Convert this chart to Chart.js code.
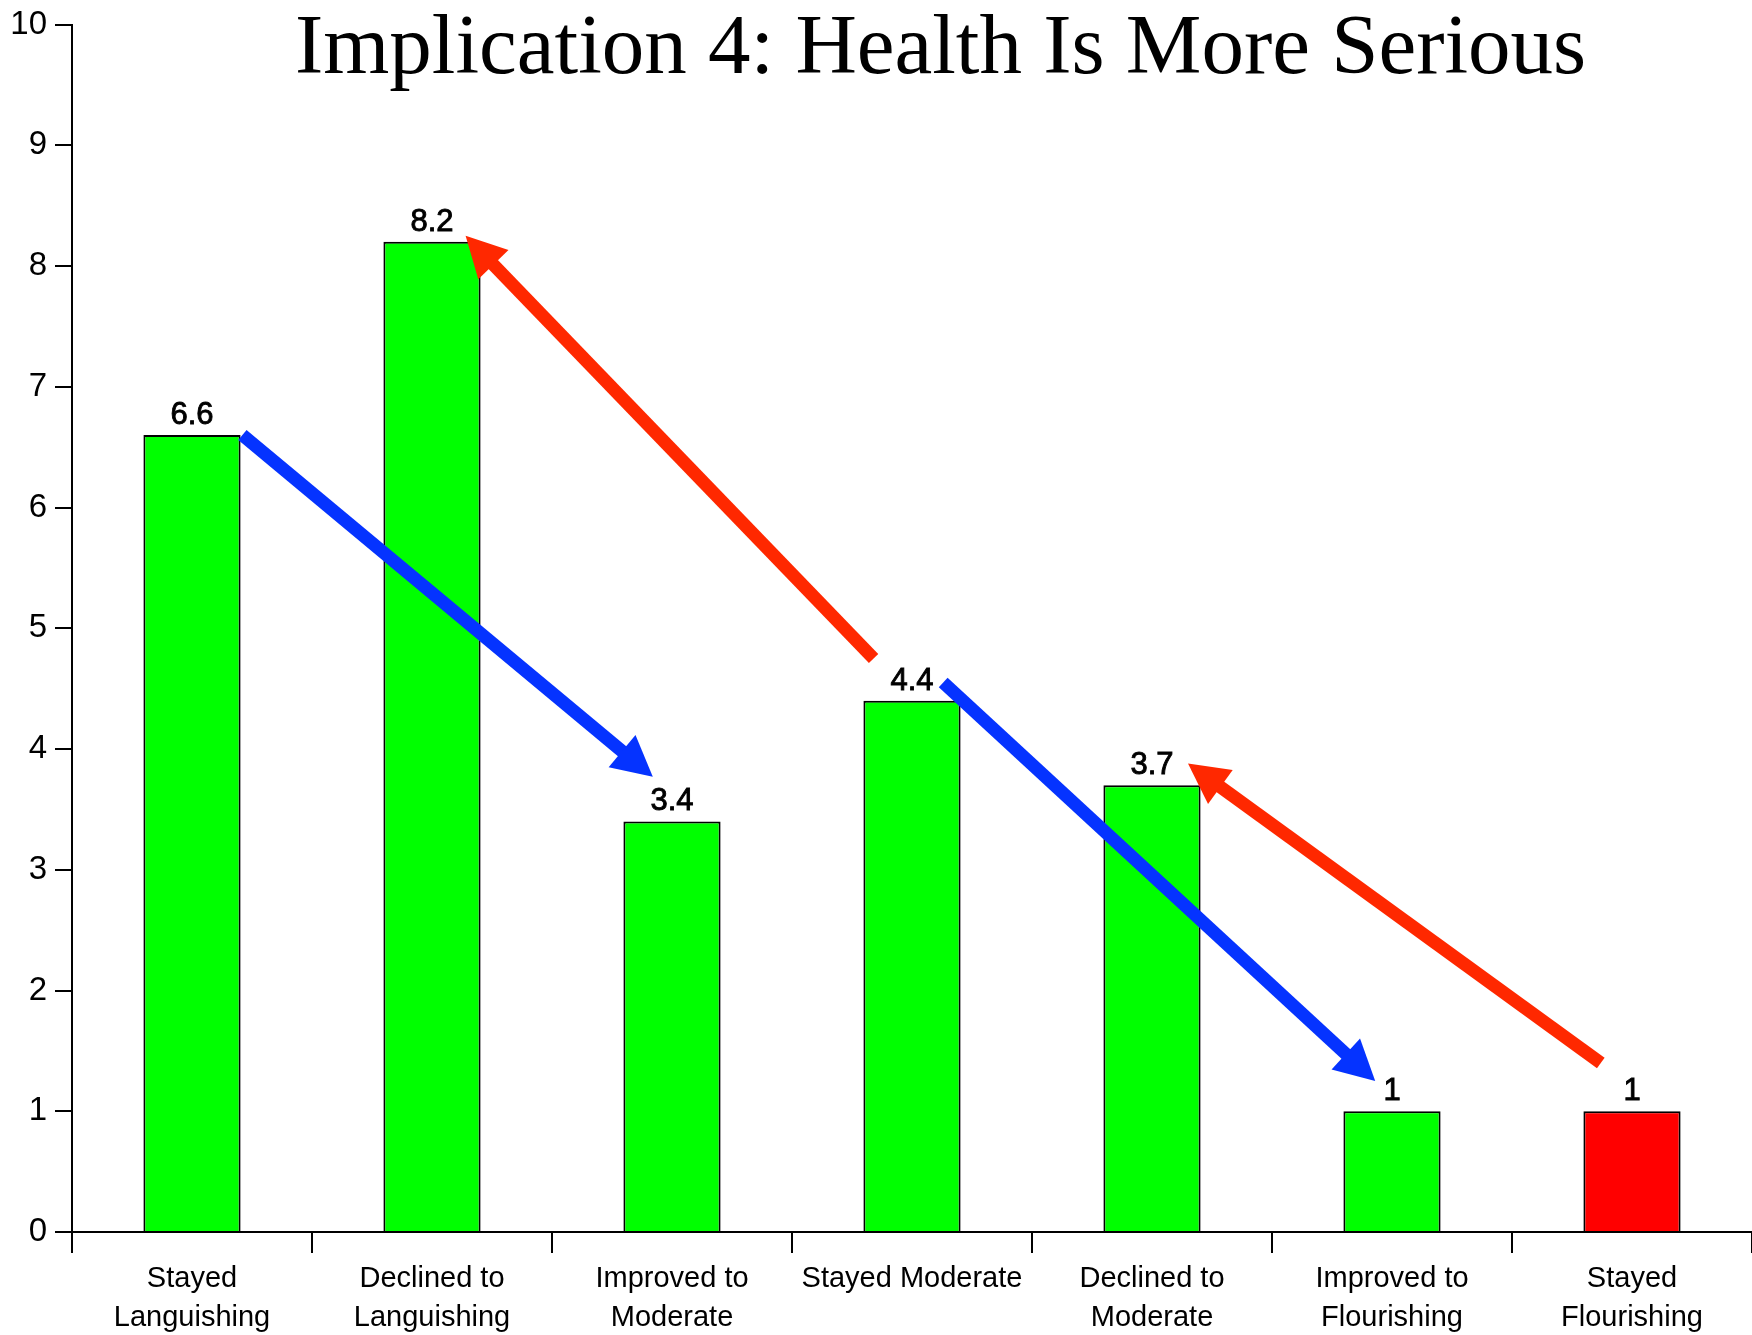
<!DOCTYPE html>
<html>
<head>
<meta charset="utf-8">
<script src="https://cdn.jsdelivr.net/npm/chart.js@4.4.0/dist/chart.umd.min.js"></script>
<style>
  html, body { margin: 0; padding: 0; background: #ffffff; }
  #wrap { width: 1752px; height: 1335px; }
</style>
</head>
<body>
<div id="wrap"><canvas id="chart" width="1752" height="1335"></canvas></div>
<script>
const chartTitle = 'Implication 4: Health Is More Serious';
const categories = [
    ['Stayed', 'Languishing'],
    ['Declined to', 'Languishing'],
    ['Improved to', 'Moderate'],
    'Stayed Moderate',
    ['Declined to', 'Moderate'],
    ['Improved to', 'Flourishing'],
    ['Stayed', 'Flourishing']
];
const values = [6.6, 8.2, 3.4, 4.4, 3.7, 1, 1];
const barColors = ['#00ff00', '#00ff00', '#00ff00', '#00ff00', '#00ff00', '#00ff00', '#ff0000'];
const yMin = 0;
const yMax = 10;
const yStep = 1;

// arrows in data units: [fromIndex, fromValue, toIndex, toValue]
const blueArrows = [[0.21, 6.60, 1.92, 3.77], [3.13, 4.55, 4.93, 1.25]];
const redArrows = [[2.84, 4.75, 1.14, 8.25], [5.87, 1.40, 4.15, 3.88]];

const sans = '"Liberation Sans", Arial, sans-serif';

function drawArrow(ctx, x1, y1, x2, y2, color) {
    const ang = Math.atan2(y2 - y1, x2 - x1);
    const len = Math.hypot(x2 - x1, y2 - y1);
    const headLen = 40, headW = 42, shaft = 13;
    ctx.save();
    ctx.translate(x1, y1);
    ctx.rotate(ang);
    ctx.fillStyle = color;
    ctx.fillRect(0, -shaft / 2, len - headLen + 2, shaft);
    ctx.beginPath();
    ctx.moveTo(len, 0);
    ctx.lineTo(len - headLen, -headW / 2);
    ctx.lineTo(len - headLen, headW / 2);
    ctx.closePath();
    ctx.fill();
    ctx.restore();
}

const overlayPlugin = {
    id: 'overlay',
    afterDatasetsDraw(chart) {
        const ctx = chart.ctx;
        const xs = chart.scales.x, ys = chart.scales.y;
        // value labels
        ctx.save();
        ctx.fillStyle = '#000';
        ctx.strokeStyle = '#000';
        ctx.lineWidth = 0.9;
        ctx.font = '31px ' + sans;
        ctx.textAlign = 'center';
        ctx.textBaseline = 'alphabetic';
        chart.getDatasetMeta(0).data.forEach((bar, i) => {
            ctx.fillText(String(values[i]), bar.x, bar.y - 11);
            ctx.strokeText(String(values[i]), bar.x, bar.y - 11);
        });
        ctx.restore();
        // arrows
        blueArrows.forEach(a => drawArrow(ctx, xs.getPixelForValue(a[0]), ys.getPixelForValue(a[1]),
            xs.getPixelForValue(a[2]), ys.getPixelForValue(a[3]), '#0533ff'));
        redArrows.forEach(a => drawArrow(ctx, xs.getPixelForValue(a[0]), ys.getPixelForValue(a[1]),
            xs.getPixelForValue(a[2]), ys.getPixelForValue(a[3]), '#ff2800'));
        // title
        const area = chart.chartArea;
        ctx.save();
        ctx.fillStyle = '#000';
        ctx.font = '85px "Liberation Serif", "Times New Roman", serif';
        ctx.textAlign = 'center';
        ctx.textBaseline = 'alphabetic';
        ctx.fillText(chartTitle, area.left + (area.right - area.left) * 0.517, 73);
        ctx.restore();
    }
};

new Chart(document.getElementById('chart').getContext('2d'), {
    type: 'bar',
    data: {
        labels: categories,
        datasets: [{
            data: values,
            backgroundColor: barColors,
            borderColor: '#000',
            borderWidth: 2,
            barPercentage: 0.405,
            categoryPercentage: 1.0
        }]
    },
    options: {
        responsive: false,
        devicePixelRatio: 1,
        animation: false,
        layout: { padding: { top: 22, right: -3, left: 0, bottom: 0 } },
        plugins: {
            legend: { display: false },
            tooltip: { enabled: false },
            title: { display: false }
        },
        scales: {
            x: {
                afterFit(scale) { scale.height = 103; },
                grid: {
                    offset: true,
                    drawOnChartArea: false,
                    drawTicks: true,
                    tickLength: 21,
                    color: '#000',
                    lineWidth: 2
                },
                border: { display: true, color: '#000', width: 2 },
                ticks: {
                    color: '#000',
                    font: { family: sans, size: 29, lineHeight: 1.35 },
                    padding: 6,
                    maxRotation: 0,
                    autoSkip: false
                }
            },
            y: {
                min: yMin,
                max: yMax,
                afterFit(scale) { scale.width = 72; },
                grid: {
                    drawOnChartArea: false,
                    drawTicks: true,
                    tickLength: 17,
                    color: '#000',
                    lineWidth: 2
                },
                border: { display: true, color: '#000', width: 2 },
                ticks: {
                    stepSize: yStep,
                    color: '#000',
                    font: { family: sans, size: 33, lineHeight: 1 },
                    padding: 8
                }
            }
        }
    },
    plugins: [overlayPlugin]
});
</script>
</body>
</html>
